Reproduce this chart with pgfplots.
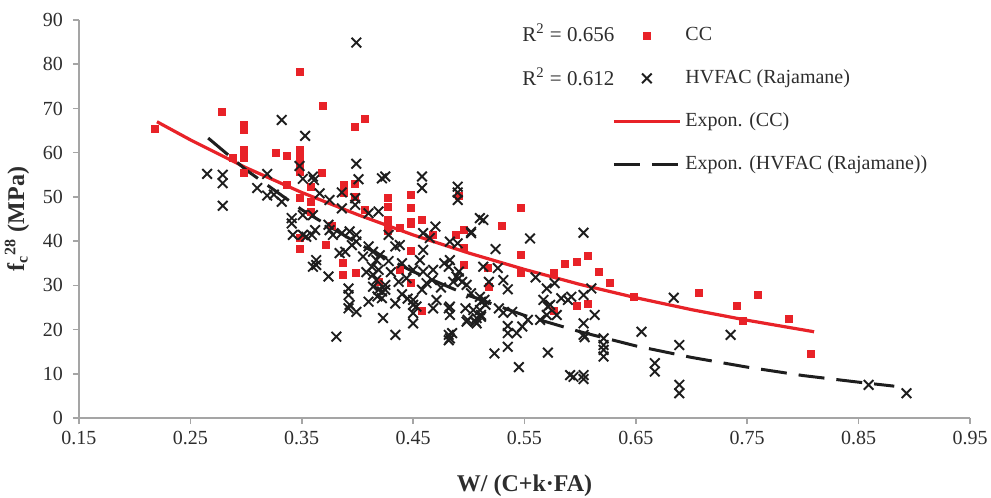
\documentclass[border=0pt]{standalone}
\usepackage{pgfplots}
\pgfplotsset{compat=1.18}
\usepackage{fontspec}
\setmainfont{Liberation Serif}
\definecolor{ccred}{RGB}{232,34,40}
\definecolor{hvblack}{RGB}{30,30,30}
\definecolor{axgray}{RGB}{165,165,165}
\definecolor{txt}{RGB}{45,45,45}
\pgfplotsset{
  markleg/.style={legend image code/.code={\draw[##1] plot coordinates {(16.5pt,0pt)};}},
  lineleg/.style={legend image code/.code={\draw[##1] (0pt,0pt) -- (33pt,0pt);}},
}
\begin{document}
\begin{tikzpicture}
\path[use as bounding box] (-39.5pt,-40pt) rectangle (456pt,209pt);
\begin{axis}[
  scale only axis, width=445.5pt, height=199pt,
  xmin=0.15, xmax=0.95, ymin=0, ymax=90,
  axis lines=left,
  axis line style={-, draw=axgray, line width=0.8pt},
  xtick={0.15,0.25,0.35,0.45,0.55,0.65,0.75,0.85,0.95},
  ytick={0,10,20,30,40,50,60,70,80,90},
  tick align=outside, major tick length=3pt,
  tick style={draw=axgray, line width=0.8pt},
  /pgf/number format/assume math mode=true,
  x tick label style={/pgf/number format/fixed, /pgf/number format/fixed zerofill, /pgf/number format/precision=2, font=\fontsize{10}{12}\selectfont, text=txt},
  y tick label style={font=\fontsize{10}{12}\selectfont, text=txt, xshift=-1.5pt},
  xlabel={\textbf{W/ (C+k·FA)}},
  xlabel style={font=\fontsize{12}{14}\selectfont, text=txt, yshift=-8pt},
  ylabel={\textbf{f\textsubscript{c}\textsuperscript{28} (MPa)}},
  ylabel style={font=\fontsize{12}{14}\selectfont, text=txt},
  legend style={at={(0.598,0.995)}, anchor=north west, draw=none, fill=none, inner sep=0pt, row sep=8.5pt, font=\fontsize{10}{12}\selectfont, text=txt, nodes={text height=7pt, text depth=2pt, inner sep=2pt}},
  legend cell align=left,
]
\addplot[only marks, mark=square*, mark size=1.75pt, color=ccred, mark options={draw=ccred, fill=ccred}, markleg]
coordinates {
(0.218,65.4)(0.278,69.3)(0.298,66.3)(0.298,65.2)(0.298,60.6)(0.298,58.8)(0.298,55.4)(0.288,58.8)
(0.327,59.9)(0.337,59.3)(0.348,78.2)(0.348,60.6)(0.348,59.1)(0.348,57.2)(0.348,55.7)(0.337,52.7)
(0.348,49.7)(0.358,52.3)(0.358,48.9)(0.358,46.7)(0.368,55.5)(0.369,70.6)(0.407,67.6)(0.398,65.8)
(0.388,52.7)(0.388,50.8)(0.398,52.9)(0.398,50.1)(0.407,47.1)(0.427,49.7)(0.427,47.8)(0.427,44.8)
(0.448,50.5)(0.448,47.4)(0.448,44.4)(0.458,44.9)(0.491,50.2)(0.547,47.4)(0.530,43.4)(0.547,36.9)
(0.586,34.8)(0.597,35.2)(0.607,36.7)(0.617,33.1)(0.627,30.5)(0.648,27.4)(0.576,32.7)(0.597,25.3)
(0.607,25.8)(0.576,24.3)(0.517,33.9)(0.518,29.7)(0.547,32.7)(0.377,43.4)(0.372,39.1)(0.387,35.1)
(0.387,32.4)(0.399,32.9)(0.427,43.9)(0.427,42.2)(0.438,43.1)(0.448,43.9)(0.468,41.4)(0.488,41.4)
(0.496,42.5)(0.496,38.4)(0.496,34.6)(0.448,37.7)(0.448,30.5)(0.438,33.5)(0.419,30.8)(0.458,24.3)
(0.348,38.2)(0.348,40.7)(0.707,28.4)(0.741,25.3)(0.760,27.9)(0.746,22.0)(0.787,22.4)(0.807,14.6)
};
\addlegendentry{CC}
\addplot[only marks, mark=x, mark size=3.4pt, color=hvblack, mark options={line width=0.95pt}, markleg]
coordinates {
(0.265,55.2)(0.279,55.0)(0.279,53.1)(0.279,48.0)(0.319,55.2)(0.319,50.3)(0.332,48.9)(0.332,67.4)
(0.353,63.8)(0.348,57.0)(0.351,54.1)(0.360,54.6)(0.361,53.8)(0.366,50.8)(0.375,49.3)(0.386,51.0)
(0.386,47.4)(0.398,49.7)(0.398,48.2)(0.410,46.3)(0.419,46.7)(0.399,84.9)(0.399,57.5)(0.401,54.0)
(0.422,54.2)(0.425,54.6)(0.458,54.6)(0.458,52.0)(0.490,52.3)(0.490,51.0)(0.490,49.3)(0.513,44.8)
(0.510,45.2)(0.341,44.0)(0.342,41.4)(0.351,41.4)(0.359,41.4)(0.360,34.2)(0.341,45.2)(0.351,45.9)
(0.360,45.9)(0.354,41.0)(0.374,43.7)(0.363,35.7)
(0.362,42.5)(0.363,34.6)(0.374,32.0)(0.381,18.4)(0.375,42.5)(0.378,41.4)(0.386,41.8)(0.393,42.2)
(0.399,41.4)(0.384,37.3)(0.389,37.6)(0.395,39.1)(0.399,39.9)(0.392,29.3)(0.392,27.8)(0.393,25.6)
(0.399,24.0)(0.392,24.8)(0.410,38.8)(0.414,37.6)(0.417,35.7)(0.413,34.2)(0.419,33.5)(0.414,32.4)
(0.417,31.2)(0.410,26.3)(0.422,28.6)(0.422,27.1)(0.419,29.0)(0.425,30.1)(0.414,29.7)(0.423,22.6)
(0.434,18.8)(0.434,25.9)(0.428,41.4)(0.434,38.8)(0.438,39.1)(0.440,35.0)(0.437,30.8)(0.444,31.6)
(0.450,33.5)(0.456,35.7)(0.458,29.0)(0.450,26.7)(0.450,25.6)(0.453,25.2)(0.450,23.7)(0.450,21.4)
(0.468,33.5)(0.471,26.7)(0.468,24.8)(0.470,43.3)(0.459,41.8)(0.465,40.7)(0.483,35.7)(0.482,34.2)
(0.489,32.0)(0.486,30.8)(0.482,24.8)(0.483,23.3)(0.485,19.2)(0.483,18.0)(0.497,24.8)(0.499,22.2)
(0.504,24.4)(0.507,22.6)(0.507,21.4)
(0.502,42.1)(0.502,41.8)(0.483,39.9)(0.490,39.5)(0.459,38.0)(0.459,33.1)(0.467,31.2)(0.491,33.1)
(0.491,31.6)(0.494,30.8)(0.498,30.1)(0.502,28.2)(0.510,27.4)(0.514,26.7)(0.483,25.2)(0.498,21.8)
(0.506,21.8)(0.510,24.4)(0.511,23.3)(0.482,18.8)(0.482,17.6)(0.523,14.6)
(0.405,36.5)(0.408,33.0)(0.420,36.8)(0.428,35.5)(0.440,28.0)(0.445,27.0)(0.462,30.5)(0.475,29.5)
(0.478,35.0)(0.430,33.0)(0.310,52.0)(0.325,50.5)(0.418,27.5)(0.425,29.0)
(0.603,41.9)(0.555,40.6)(0.524,38.2)(0.513,34.2)(0.526,33.9)(0.518,30.8)(0.531,31.2)(0.535,29.1)
(0.511,26.3)(0.515,25.6)(0.511,22.9)(0.527,24.8)(0.531,23.8)(0.539,24.0)(0.535,20.8)(0.535,19.2)
(0.543,19.2)(0.548,20.7)(0.535,16.1)(0.545,11.5)(0.560,31.8)(0.570,29.3)(0.567,26.7)(0.571,25.2)
(0.573,25.6)(0.570,23.3)(0.564,22.2)(0.553,22.2)(0.571,14.8)(0.577,30.5)(0.579,23.3)(0.583,27.1)
(0.589,26.7)(0.592,27.4)(0.603,27.8)(0.610,29.3)(0.613,23.3)(0.603,21.4)(0.603,18.8)(0.604,18.3)
(0.591,9.7)(0.594,9.3)(0.603,9.7)(0.603,8.8)(0.621,18.0)(0.621,16.5)(0.621,15.4)(0.621,13.9)
(0.655,19.5)(0.667,12.4)(0.667,10.5)(0.684,27.2)(0.689,16.5)(0.689,7.5)(0.689,5.6)(0.735,18.8)
(0.859,7.5)(0.893,5.6)
};
\addlegendentry{HVFAC (Rajamane)}
\addplot[color=ccred, line width=1.6pt, lineleg] coordinates {
(0.22,67.0)(0.25,62.9)(0.30,56.6)(0.35,51.0)(0.40,46.0)(0.45,41.4)(0.50,37.3)(0.55,33.6)
(0.60,30.2)(0.65,27.2)(0.70,24.5)(0.75,22.1)(0.81,19.5)
};
\addlegendentry{Expon. (CC)}
\addplot[color=hvblack, line width=1.5pt, dash pattern=on 13pt off 6pt, lineleg] coordinates {
(0.266,63.3)(0.30,56.1)(0.35,47.1)(0.40,39.5)(0.45,33.1)(0.50,27.7)(0.55,23.2)(0.60,19.5)
(0.65,16.3)(0.70,13.7)(0.75,11.5)(0.80,9.6)(0.85,8.1)(0.882,7.2)
};
\addlegendentry{Expon. (HVFAC (Rajamane))}
\node[anchor=base east, font=\fontsize{10.5}{12}\selectfont, text=txt] at (axis cs:0.637,85.1) {R\textsuperscript{2} = 0.656};
\node[anchor=base east, font=\fontsize{10.5}{12}\selectfont, text=txt] at (axis cs:0.637,75.3) {R\textsuperscript{2} = 0.612};
\end{axis}
\end{tikzpicture}
\end{document}
